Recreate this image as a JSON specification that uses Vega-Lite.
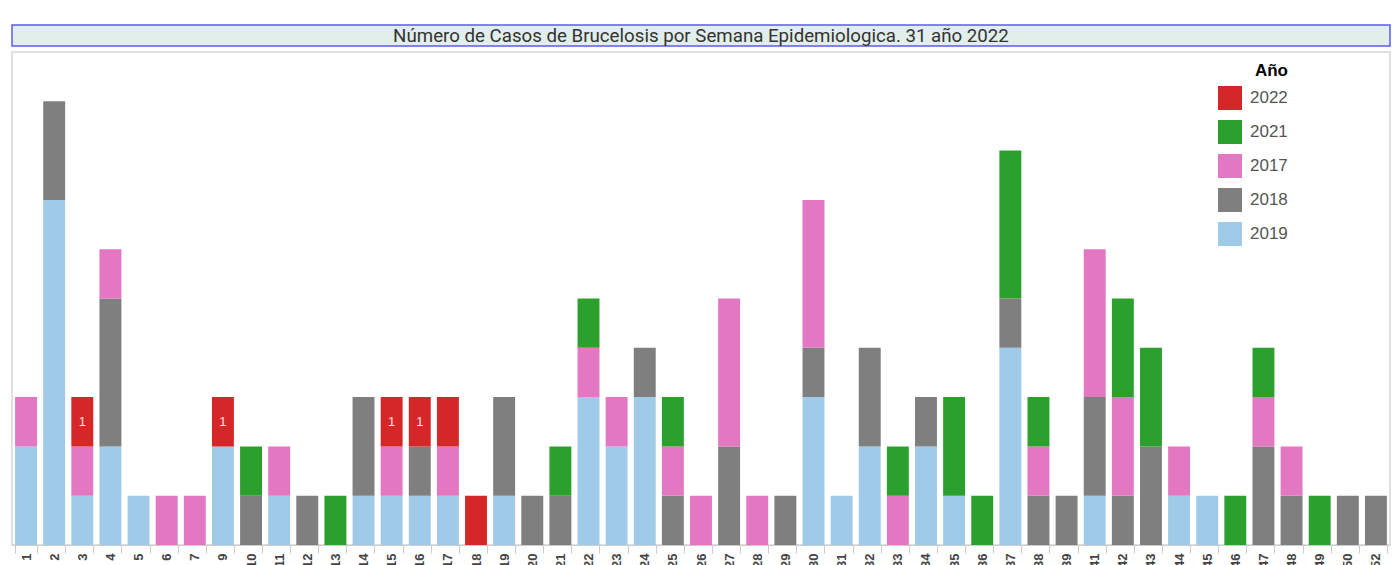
{
  "$schema": "https://vega.github.io/schema/vega-lite/v6.json",
  "padding": {"left": 5, "top": 24, "right": 0, "bottom": 0},
  "spacing": 4,
  "background": "white",
  "config": {"font": "Liberation Sans"},
  "vconcat": [
    {
      "data": {"values": [{"titulo": "Número de Casos de  Brucelosis por Semana Epidemiologica. 31 año 2022"}]},
      "width": 1378,
      "height": 21,
      "view": {"fill": "#e1eeea", "stroke": "#5b5bf0", "strokeWidth": 1.5},
      "mark": {"type": "text", "font": "Roboto", "fontSize": 18.7, "color": "#333333", "baseline": "middle"},
      "encoding": {
        "x": {"field": "titulo", "type": "nominal", "axis": null},
        "y": {"field": "titulo", "type": "nominal", "axis": null},
        "text": {"field": "titulo"}
      }
    },
    {
      "width": 1378,
      "height": 493,
      "view": {"stroke": "#d6d6d6", "strokeWidth": 1.5},
      "data": {"values": [
        {"semana": 1, "anio": "2019", "casos": 2}, {"semana": 1, "anio": "2017", "casos": 1},
        {"semana": 2, "anio": "2019", "casos": 7}, {"semana": 2, "anio": "2018", "casos": 2},
        {"semana": 3, "anio": "2019", "casos": 1}, {"semana": 3, "anio": "2017", "casos": 1}, {"semana": 3, "anio": "2022", "casos": 1, "etiqueta": "1"},
        {"semana": 4, "anio": "2019", "casos": 2}, {"semana": 4, "anio": "2018", "casos": 3}, {"semana": 4, "anio": "2017", "casos": 1},
        {"semana": 5, "anio": "2019", "casos": 1},
        {"semana": 6, "anio": "2017", "casos": 1},
        {"semana": 7, "anio": "2017", "casos": 1},
        {"semana": 9, "anio": "2019", "casos": 2}, {"semana": 9, "anio": "2022", "casos": 1, "etiqueta": "1"},
        {"semana": 10, "anio": "2018", "casos": 1}, {"semana": 10, "anio": "2021", "casos": 1},
        {"semana": 11, "anio": "2019", "casos": 1}, {"semana": 11, "anio": "2017", "casos": 1},
        {"semana": 12, "anio": "2018", "casos": 1},
        {"semana": 13, "anio": "2021", "casos": 1},
        {"semana": 14, "anio": "2019", "casos": 1}, {"semana": 14, "anio": "2018", "casos": 2},
        {"semana": 15, "anio": "2019", "casos": 1}, {"semana": 15, "anio": "2017", "casos": 1}, {"semana": 15, "anio": "2022", "casos": 1, "etiqueta": "1"},
        {"semana": 16, "anio": "2019", "casos": 1}, {"semana": 16, "anio": "2018", "casos": 1}, {"semana": 16, "anio": "2022", "casos": 1, "etiqueta": "1"},
        {"semana": 17, "anio": "2019", "casos": 1}, {"semana": 17, "anio": "2017", "casos": 1}, {"semana": 17, "anio": "2022", "casos": 1},
        {"semana": 18, "anio": "2022", "casos": 1},
        {"semana": 19, "anio": "2019", "casos": 1}, {"semana": 19, "anio": "2018", "casos": 2},
        {"semana": 20, "anio": "2018", "casos": 1},
        {"semana": 21, "anio": "2018", "casos": 1}, {"semana": 21, "anio": "2021", "casos": 1},
        {"semana": 22, "anio": "2019", "casos": 3}, {"semana": 22, "anio": "2017", "casos": 1}, {"semana": 22, "anio": "2021", "casos": 1},
        {"semana": 23, "anio": "2019", "casos": 2}, {"semana": 23, "anio": "2017", "casos": 1},
        {"semana": 24, "anio": "2019", "casos": 3}, {"semana": 24, "anio": "2018", "casos": 1},
        {"semana": 25, "anio": "2018", "casos": 1}, {"semana": 25, "anio": "2017", "casos": 1}, {"semana": 25, "anio": "2021", "casos": 1},
        {"semana": 26, "anio": "2017", "casos": 1},
        {"semana": 27, "anio": "2018", "casos": 2}, {"semana": 27, "anio": "2017", "casos": 3},
        {"semana": 28, "anio": "2017", "casos": 1},
        {"semana": 29, "anio": "2018", "casos": 1},
        {"semana": 30, "anio": "2019", "casos": 3}, {"semana": 30, "anio": "2018", "casos": 1}, {"semana": 30, "anio": "2017", "casos": 3},
        {"semana": 31, "anio": "2019", "casos": 1},
        {"semana": 32, "anio": "2019", "casos": 2}, {"semana": 32, "anio": "2018", "casos": 2},
        {"semana": 33, "anio": "2017", "casos": 1}, {"semana": 33, "anio": "2021", "casos": 1},
        {"semana": 34, "anio": "2019", "casos": 2}, {"semana": 34, "anio": "2018", "casos": 1},
        {"semana": 35, "anio": "2019", "casos": 1}, {"semana": 35, "anio": "2021", "casos": 2},
        {"semana": 36, "anio": "2021", "casos": 1},
        {"semana": 37, "anio": "2019", "casos": 4}, {"semana": 37, "anio": "2018", "casos": 1}, {"semana": 37, "anio": "2021", "casos": 3},
        {"semana": 38, "anio": "2018", "casos": 1}, {"semana": 38, "anio": "2017", "casos": 1}, {"semana": 38, "anio": "2021", "casos": 1},
        {"semana": 39, "anio": "2018", "casos": 1},
        {"semana": 41, "anio": "2019", "casos": 1}, {"semana": 41, "anio": "2018", "casos": 2}, {"semana": 41, "anio": "2017", "casos": 3},
        {"semana": 42, "anio": "2018", "casos": 1}, {"semana": 42, "anio": "2017", "casos": 2}, {"semana": 42, "anio": "2021", "casos": 2},
        {"semana": 43, "anio": "2018", "casos": 2}, {"semana": 43, "anio": "2021", "casos": 2},
        {"semana": 44, "anio": "2019", "casos": 1}, {"semana": 44, "anio": "2017", "casos": 1},
        {"semana": 45, "anio": "2019", "casos": 1},
        {"semana": 46, "anio": "2021", "casos": 1},
        {"semana": 47, "anio": "2018", "casos": 2}, {"semana": 47, "anio": "2017", "casos": 1}, {"semana": 47, "anio": "2021", "casos": 1},
        {"semana": 48, "anio": "2018", "casos": 1}, {"semana": 48, "anio": "2017", "casos": 1},
        {"semana": 49, "anio": "2021", "casos": 1},
        {"semana": 50, "anio": "2018", "casos": 1},
        {"semana": 52, "anio": "2018", "casos": 1}
      ]},
      "transform": [
        {"calculate": "indexof(['2019','2018','2017','2021','2022'], datum.anio)", "as": "orden"},
        {"stack": "casos", "groupby": ["semana"], "sort": [{"field": "orden", "order": "ascending"}], "as": ["y0", "y1"]},
        {"calculate": "(datum.y0 + datum.y1) / 2", "as": "ymid"}
      ],
      "encoding": {
        "x": {
          "field": "semana", "type": "ordinal",
          "scale": {"paddingInner": 0.22, "paddingOuter": 0.11},
          "axis": {
            "title": null, "labelAngle": -90, "labelFontSize": 13, "labelFontWeight": "bold",
            "labelColor": "#444444", "labelFont": "Liberation Sans", "labelPadding": 0,
            "tickColor": "#cccccc", "tickSize": 8, "tickBand": "extent", "domainColor": "#cccccc",
            "grid": false
          }
        }
      },
      "layer": [
        {
          "mark": {"type": "bar"},
          "encoding": {
            "y": {"field": "y1", "type": "quantitative", "scale": {"domain": [0, 10], "nice": false}, "axis": null},
            "y2": {"field": "y0"},
            "color": {
              "field": "anio", "type": "nominal",
              "scale": {"domain": ["2022", "2021", "2017", "2018", "2019"], "range": ["#d62728", "#2ca02c", "#e377c2", "#7f7f7f", "#a0cbe8"]},
              "legend": {
                "orient": "none", "legendX": 1206, "legendY": 38, "padding": 0,
                "title": "Año", "titleFontSize": 17, "titleFontWeight": "bold", "titleColor": "#000000",
                "titleAnchor": "end", "titlePadding": 6, "titleFont": "Liberation Sans",
                "labelFontSize": 17, "labelColor": "#555555", "labelFont": "Liberation Sans", "labelOffset": 8,
                "symbolType": "square", "symbolSize": 576, "symbolStrokeWidth": 0, "symbolOpacity": 1,
                "rowPadding": 10
              }
            }
          }
        },
        {
          "transform": [{"filter": "isValid(datum.etiqueta)"}],
          "mark": {"type": "text", "fontSize": 13, "color": "#f7e1e1", "baseline": "middle", "align": "center"},
          "encoding": {
            "y": {"field": "ymid", "type": "quantitative", "scale": {"domain": [0, 10], "nice": false}, "axis": null},
            "text": {"field": "etiqueta"}
          }
        }
      ]
    }
  ]
}
